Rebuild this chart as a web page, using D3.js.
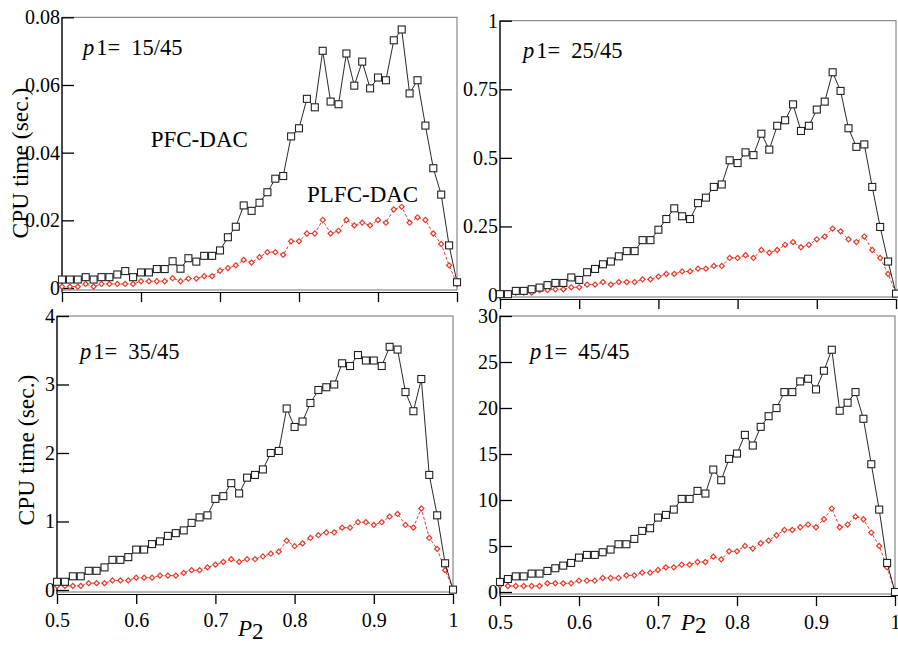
<!DOCTYPE html>
<html>
<head>
<meta charset="utf-8">
<script src="https://cdn.jsdelivr.net/npm/d3@7"></script>
<style>
  body { margin: 0; background: #fff; }
  svg { display: block; }
  text { font-family: "Liberation Serif", "Times New Roman", serif; fill: #000; }
</style>
</head>
<body>
<svg id="chart" width="898" height="645"></svg>
<script>
// P2 grid shared by every panel
const p2Values = [0.50,0.51,0.52,0.53,0.54,0.55,0.56,0.57,0.58,0.59,
  0.60,0.61,0.62,0.63,0.64,0.65,0.66,0.67,0.68,0.69,
  0.70,0.71,0.72,0.73,0.74,0.75,0.76,0.77,0.78,0.79,
  0.80,0.81,0.82,0.83,0.84,0.85,0.86,0.87,0.88,0.89,
  0.90,0.91,0.92,0.93,0.94,0.95,0.96,0.97,0.98,0.99,1.00];

const p1Labels = ["15/45", "25/45", "35/45", "45/45"];

// CPU time (sec.) of PFC-DAC and PLFC-DAC
const pfc15 = [0.0025,0.0025,0.0025,0.0032,0.0025,0.0032,0.0032,0.0040,0.0050,0.0032,
  0.0046,0.0046,0.0056,0.0056,0.0079,0.0057,0.0088,0.0078,0.0095,0.0095,
  0.0111,0.0150,0.0181,0.0244,0.0228,0.0252,0.0283,0.0323,0.0331,0.0448,
  0.0472,0.0559,0.0534,0.0701,0.0551,0.0543,0.0693,0.0598,0.0669,0.0590,
  0.0622,0.0614,0.0732,0.0764,0.0575,0.0614,0.0480,0.0354,0.0276,0.0126,0.0017];
const plfc15 = [0.0004,0.0004,0.0004,0.0012,0.0004,0.0012,0.0012,0.0012,0.0012,0.0012,
  0.0020,0.0020,0.0020,0.0020,0.0029,0.0020,0.0028,0.0028,0.0035,0.0035,
  0.0051,0.0059,0.0067,0.0083,0.0075,0.0091,0.0106,0.0106,0.0098,0.0138,
  0.0138,0.0161,0.0161,0.0201,0.0161,0.0169,0.0201,0.0185,0.0193,0.0185,
  0.0201,0.0193,0.0232,0.0240,0.0193,0.0209,0.0201,0.0161,0.0130,0.0067,0.0012];

const pfc25 = [0.003,0.003,0.015,0.015,0.021,0.027,0.036,0.044,0.044,0.064,
  0.055,0.083,0.095,0.112,0.122,0.141,0.160,0.160,0.200,0.200,
  0.238,0.277,0.316,0.287,0.277,0.335,0.355,0.394,0.403,0.491,
  0.481,0.520,0.510,0.588,0.530,0.617,0.637,0.695,0.598,0.617,
  0.676,0.705,0.812,0.744,0.608,0.540,0.549,0.394,0.248,0.122,0.005];
const plfc25 = [0.004,0.006,0.009,0.009,0.009,0.018,0.018,0.021,0.021,0.028,
  0.028,0.038,0.038,0.047,0.038,0.047,0.047,0.047,0.057,0.057,
  0.067,0.077,0.077,0.086,0.086,0.096,0.096,0.106,0.106,0.135,
  0.135,0.145,0.135,0.164,0.154,0.164,0.183,0.193,0.174,0.183,
  0.203,0.213,0.242,0.232,0.203,0.193,0.213,0.164,0.135,0.077,0.006];

const pfc35 = [0.12,0.12,0.20,0.20,0.28,0.28,0.33,0.44,0.44,0.48,
  0.59,0.59,0.67,0.71,0.79,0.83,0.87,0.98,1.06,1.09,
  1.33,1.37,1.56,1.41,1.64,1.68,1.76,2.00,2.03,2.65,
  2.38,2.46,2.73,2.92,2.96,3.00,3.31,3.27,3.43,3.35,
  3.35,3.27,3.55,3.51,2.89,2.61,3.08,1.68,1.09,0.39,0.005];
const plfc35 = [0.06,0.06,0.06,0.06,0.10,0.10,0.10,0.14,0.14,0.14,
  0.18,0.18,0.18,0.21,0.21,0.21,0.25,0.29,0.29,0.33,
  0.37,0.41,0.45,0.41,0.45,0.45,0.49,0.53,0.56,0.72,
  0.64,0.68,0.76,0.80,0.84,0.84,0.91,0.91,0.99,0.99,
  0.95,0.99,1.07,1.11,0.95,0.91,1.19,0.76,0.60,0.29,0.02];

const pfc45 = [1.09,1.41,1.70,1.70,2.00,2.00,2.29,2.58,2.87,3.16,
  3.74,4.03,4.03,4.32,4.61,5.19,5.19,5.77,6.64,6.93,
  8.09,8.38,8.96,10.12,10.12,10.99,10.70,13.31,12.15,14.47,
  15.05,17.08,15.92,17.95,19.11,19.99,21.73,21.73,22.89,23.18,
  22.02,24.05,26.33,19.70,20.57,21.73,18.83,13.89,8.96,3.16,0.0];
const plfc45 = [0.73,0.65,0.65,0.65,0.65,0.65,0.94,0.94,0.94,0.94,
  1.23,1.23,1.23,1.52,1.52,1.52,1.81,1.81,2.10,2.10,
  2.39,2.68,2.68,2.97,2.97,3.26,3.26,3.84,3.55,4.42,
  4.42,5.01,4.72,5.30,5.59,6.17,6.75,6.75,7.04,7.33,
  7.04,7.91,9.07,7.04,7.33,8.20,7.91,6.46,5.01,2.68,0.07];

// Axis ticks
const xTicks = [0.5, 0.6, 0.7, 0.8, 0.9, 1];
const yTicks15 = [0, 0.02, 0.04, 0.06, 0.08];
const yTicks25 = [0, 0.25, 0.5, 0.75, 1];
const yTicks35 = [0, 1, 2, 3, 4];
const yTicks45 = [0, 5, 10, 15, 20, 25, 30];

const pfcSeries = [pfc15, pfc25, pfc35, pfc45];
const plfcSeries = [plfc15, plfc25, plfc35, plfc45];
const yTickSets = [yTicks15, yTicks25, yTicks35, yTicks45];

// Panel placement on the page
const panels = [
  { x0: 62,  x1: 457, yTop: 17.3, y0: 288, tickLabels: false, tag: [21, 38] },
  { x0: 500, x1: 896, yTop: 20.7, y0: 295, tickLabels: false, tag: [23, 37] },
  { x0: 57,  x1: 453, yTop: 316,  y0: 590, tickLabels: true,  tag: [23, 43], xTitleY: 636 },
  { x0: 500, x1: 895, yTop: 316,  y0: 592, tickLabels: true,  tag: [30, 43], xTitleY: 630 }
];

const svg = d3.select("#chart");
const RED = "#e8392a";

panels.forEach((p, i) => {
  const ticks = yTickSets[i];
  const x = d3.scaleLinear().domain([0.5, 1]).range([p.x0, p.x1]);
  const y = d3.scaleLinear().domain([0, d3.max(ticks)]).range([p.y0, p.yTop]);
  const g = svg.append("g");

  // frame
  g.append("rect")
    .attr("x", p.x0).attr("y", p.yTop)
    .attr("width", p.x1 - p.x0).attr("height", p.y0 + 2 - p.yTop)
    .attr("fill", "none").attr("stroke", "#707070").attr("stroke-width", 1);

  // x axis below the frame, outward ticks
  const xAxis = d3.axisBottom(x).tickValues(xTicks)
    .tickSizeInner(10).tickSizeOuter(0).tickPadding(9)
    .tickFormat(p.tickLabels ? d3.format("") : () => "");
  const gx = g.append("g").attr("transform", `translate(0,${p.y0 + 4})`).call(xAxis);
  gx.select(".domain").attr("stroke", "#000").attr("stroke-width", 1.2);
  gx.selectAll(".tick line").attr("stroke", "#000").attr("stroke-width", 1.3);
  gx.selectAll("text").attr("font-size", 20).attr("font-family", "Liberation Serif").attr("fill", "#000");

  // y axis with inward ticks
  const yAxis = d3.axisLeft(y).tickValues(ticks)
    .tickSizeInner(-12).tickSizeOuter(0).tickPadding(2)
    .tickFormat(d3.format(""));
  const gy = g.append("g").attr("transform", `translate(${p.x0},0)`).call(yAxis);
  gy.select(".domain").remove();
  gy.selectAll(".tick line").attr("stroke", "#000").attr("stroke-width", 1.3);
  gy.selectAll("text").attr("font-size", 20).attr("font-family", "Liberation Serif").attr("fill", "#000");
  g.append("line")
    .attr("x1", p.x0).attr("x2", p.x0)
    .attr("y1", p.yTop).attr("y2", p.y0 + 4.6)
    .attr("stroke", "#000").attr("stroke-width", 1.2);

  const line = d3.line().x((d, k) => x(p2Values[k])).y(d => y(d));

  // PLFC-DAC: red dashed line with small diamonds
  const red = plfcSeries[i];
  g.append("path").datum(red).attr("d", line)
    .attr("fill", "none").attr("stroke", RED).attr("stroke-width", 1)
    .attr("stroke-dasharray", "3,2");
  const diamond = d3.symbol().type(d3.symbolSquare).size(13);
  g.selectAll(".dia").data(red).join("path").attr("class", "dia")
    .attr("d", diamond)
    .attr("transform", (d, k) => `translate(${x(p2Values[k])},${y(d)}) rotate(45)`)
    .attr("fill", "#fff").attr("stroke", RED).attr("stroke-width", 1.2);

  // PFC-DAC: black line with open squares
  const blk = pfcSeries[i];
  g.append("path").datum(blk).attr("d", line)
    .attr("fill", "none").attr("stroke", "#111").attr("stroke-width", 0.9);
  g.selectAll(".sq").data(blk).join("rect").attr("class", "sq")
    .attr("x", (d, k) => x(p2Values[k]) - 3.5)
    .attr("y", d => y(d) - 3.5)
    .attr("width", 7).attr("height", 7)
    .attr("fill", "#fff").attr("stroke", "#222").attr("stroke-width", 1.1);

  // panel tag "p1= n/45"
  const tag = g.append("text")
    .attr("x", p.x0 + p.tag[0]).attr("y", p.yTop + p.tag[1])
    .attr("font-size", 22.5);
  tag.append("tspan").attr("font-style", "italic").text("p");
  tag.append("tspan").attr("dx", 2).text("1=");
  tag.append("tspan").attr("dx", 11).text(p1Labels[i]);

  // x title for the bottom row
  if (p.tickLabels) {
    const t = g.append("text").attr("x", p.x0 + 181).attr("y", p.xTitleY).attr("font-size", 23);
    t.append("tspan").attr("font-style", "italic").text("P");
    t.append("tspan").attr("dy", 3).text("2");
  }
});

// series names in the first panel
svg.append("text").attr("x", 150.7).attr("y", 146.7).attr("font-size", 23).text("PFC-DAC");
svg.append("text").attr("x", 307).attr("y", 201.7).attr("font-size", 23).text("PLFC-DAC");

// y titles for the left column
[[28, 163], [34, 450]].forEach(([bx, cy]) => {
  svg.append("text")
    .attr("transform", `translate(${bx},${cy}) rotate(-90)`)
    .attr("text-anchor", "middle")
    .attr("font-size", 23.5)
    .text("CPU time (sec.)");
});
</script>
</body>
</html>
